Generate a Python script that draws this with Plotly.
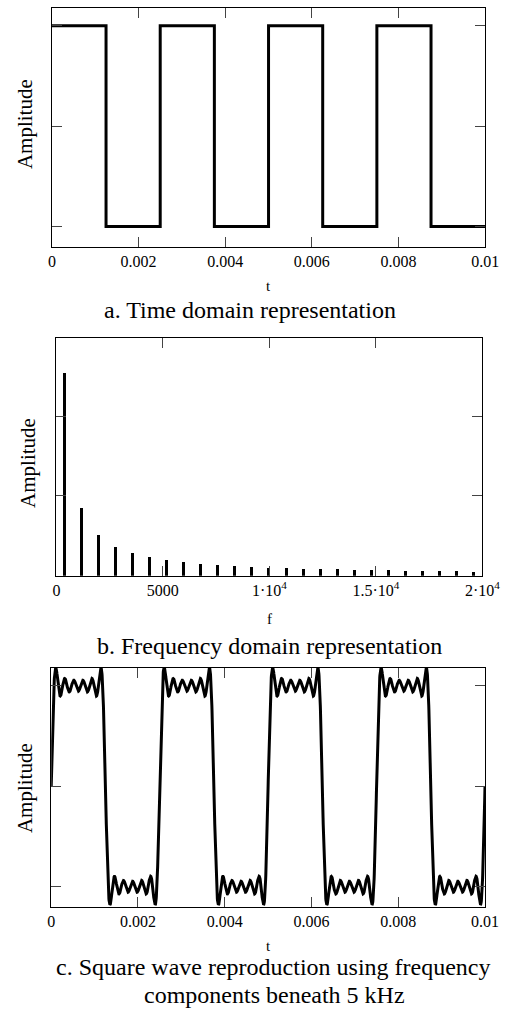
import numpy as np
import plotly.graph_objects as go

# ---- a. time domain: square wave switching levels ----
edge_times = [0, 0.00125, 0.0025, 0.00375, 0.005, 0.00625, 0.0075, 0.00875, 0.01]
edge_levels = [1, -1, 1, -1, 1, -1, 1, -1, -1]

# ---- b. frequency domain: odd harmonics of the 400 Hz fundamental ----
harmonic_hz = [400, 1200, 2000, 2800, 3600, 4400, 5200, 6000, 6800, 7600,
               8400, 9200, 10000, 10800, 11600, 12400, 13200, 14000, 14800,
               15600, 16400, 17200, 18000, 18800, 19600]
harmonic_amp = [1.273, 0.424, 0.255, 0.182, 0.141, 0.116, 0.098, 0.085, 0.075,
                0.067, 0.061, 0.055, 0.051, 0.047, 0.044, 0.041, 0.039, 0.036,
                0.034, 0.033, 0.031, 0.030, 0.028, 0.027, 0.026]

# ---- c. rebuild using only the components below the cutoff ----
cutoff_hz = 5000
t = np.linspace(0, 0.01, 3001)
recon = np.zeros_like(t)
for f, a in zip(harmonic_hz, harmonic_amp):
    if f < cutoff_hz:
        recon += a * np.sin(2 * np.pi * f * t)

time_ticks = [0, 0.002, 0.004, 0.006, 0.008, 0.01]
time_tick_text = ["0", "0.002", "0.004", "0.006", "0.008", "0.01"]
freq_ticks = [0, 5000, 10000, 15000, 20000]
freq_tick_text = ["0", "5000", "1\u00b710<sup>4</sup>", "1.5\u00b710<sup>4</sup>", "2\u00b710<sup>4</sup>"]

W, H = 519, 1011
FONT = "Liberation Serif"
BLACK = "#000000"
TICKC = "#444444"

fig = go.Figure()
fig.add_trace(go.Scatter(x=edge_times, y=edge_levels, mode="lines", line_shape="hv",
                         line=dict(color=BLACK, width=3), xaxis="x", yaxis="y",
                         showlegend=False))
fig.add_trace(go.Bar(x=harmonic_hz, y=harmonic_amp, width=140,
                     marker=dict(color=BLACK, line=dict(width=0)),
                     xaxis="x2", yaxis="y2", showlegend=False))
fig.add_trace(go.Scatter(x=t, y=recon, mode="lines",
                         line=dict(color=BLACK, width=3), xaxis="x3", yaxis="y3",
                         showlegend=False))


def px_x(p):
    return p / W


def px_y(p):
    return 1 - p / H


def xax(dom, rng, vals, text, anchor):
    return dict(domain=dom, range=rng, anchor=anchor, tickvals=vals, ticktext=text,
                showline=True, linecolor=BLACK, linewidth=1.2, mirror="ticks",
                ticks="inside", ticklen=10, tickcolor=TICKC, tickwidth=1,
                showgrid=False, zeroline=False,
                tickfont=dict(family=FONT, size=16, color=BLACK))


def yax(dom, rng, vals, anchor):
    return dict(domain=dom, range=rng, anchor=anchor, tickvals=vals,
                showticklabels=False, showline=True, linecolor=BLACK,
                linewidth=1.2, mirror="ticks", ticks="inside", ticklen=10,
                tickcolor=TICKC, tickwidth=1, showgrid=False, zeroline=False)


layout = dict(
    width=W, height=H, margin=dict(l=0, r=0, t=0, b=0),
    paper_bgcolor="white", plot_bgcolor="white", bargap=0,
    font=dict(family=FONT, color=BLACK),
    xaxis=xax([px_x(50), px_x(502.5)], [0, 0.01], time_ticks, time_tick_text, "y"),
    yaxis=yax([px_y(246.7), px_y(8.3)], [-1.2, 1.175], [-1, 0, 1], "x"),
    xaxis2=xax([px_x(54.7), px_x(499.5)], [0, 20000], freq_ticks, freq_tick_text, "y2"),
    yaxis2=yax([px_y(575.7), px_y(338)], [0, 1.49], [0, 0.5, 1], "x2"),
    xaxis3=xax([px_x(49.3), px_x(502.3)], [0, 0.01], time_ticks, time_tick_text, "y3"),
    yaxis3=yax([px_y(906.7), px_y(667.7)], [-1.2, 1.18], [-1, 0, 1], "x3"),
)


def label(x, y, text, size, angle=0):
    return dict(x=px_x(x), y=px_y(y), xref="paper", yref="paper", text=text,
                showarrow=False, textangle=angle, xanchor="center", yanchor="middle",
                font=dict(family=FONT, size=size, color=BLACK))


layout["annotations"] = [
    label(22, 124, "Amplitude", 21, -90),
    label(276, 286, "t", 15),
    label(257, 310, "a. Time domain representation", 24),
    label(25, 463, "Amplitude", 21, -90),
    label(277, 619, "f", 15),
    label(277, 646, "b. Frequency domain representation", 24),
    label(22, 788, "Amplitude", 21, -90),
    label(276, 946, "t", 15),
    label(281, 967, "c. Square wave reproduction using frequency", 24),
    label(282, 995, "components beneath 5 kHz", 24),
]

fig.update_layout(**layout)
fig.write_html("out.html")
